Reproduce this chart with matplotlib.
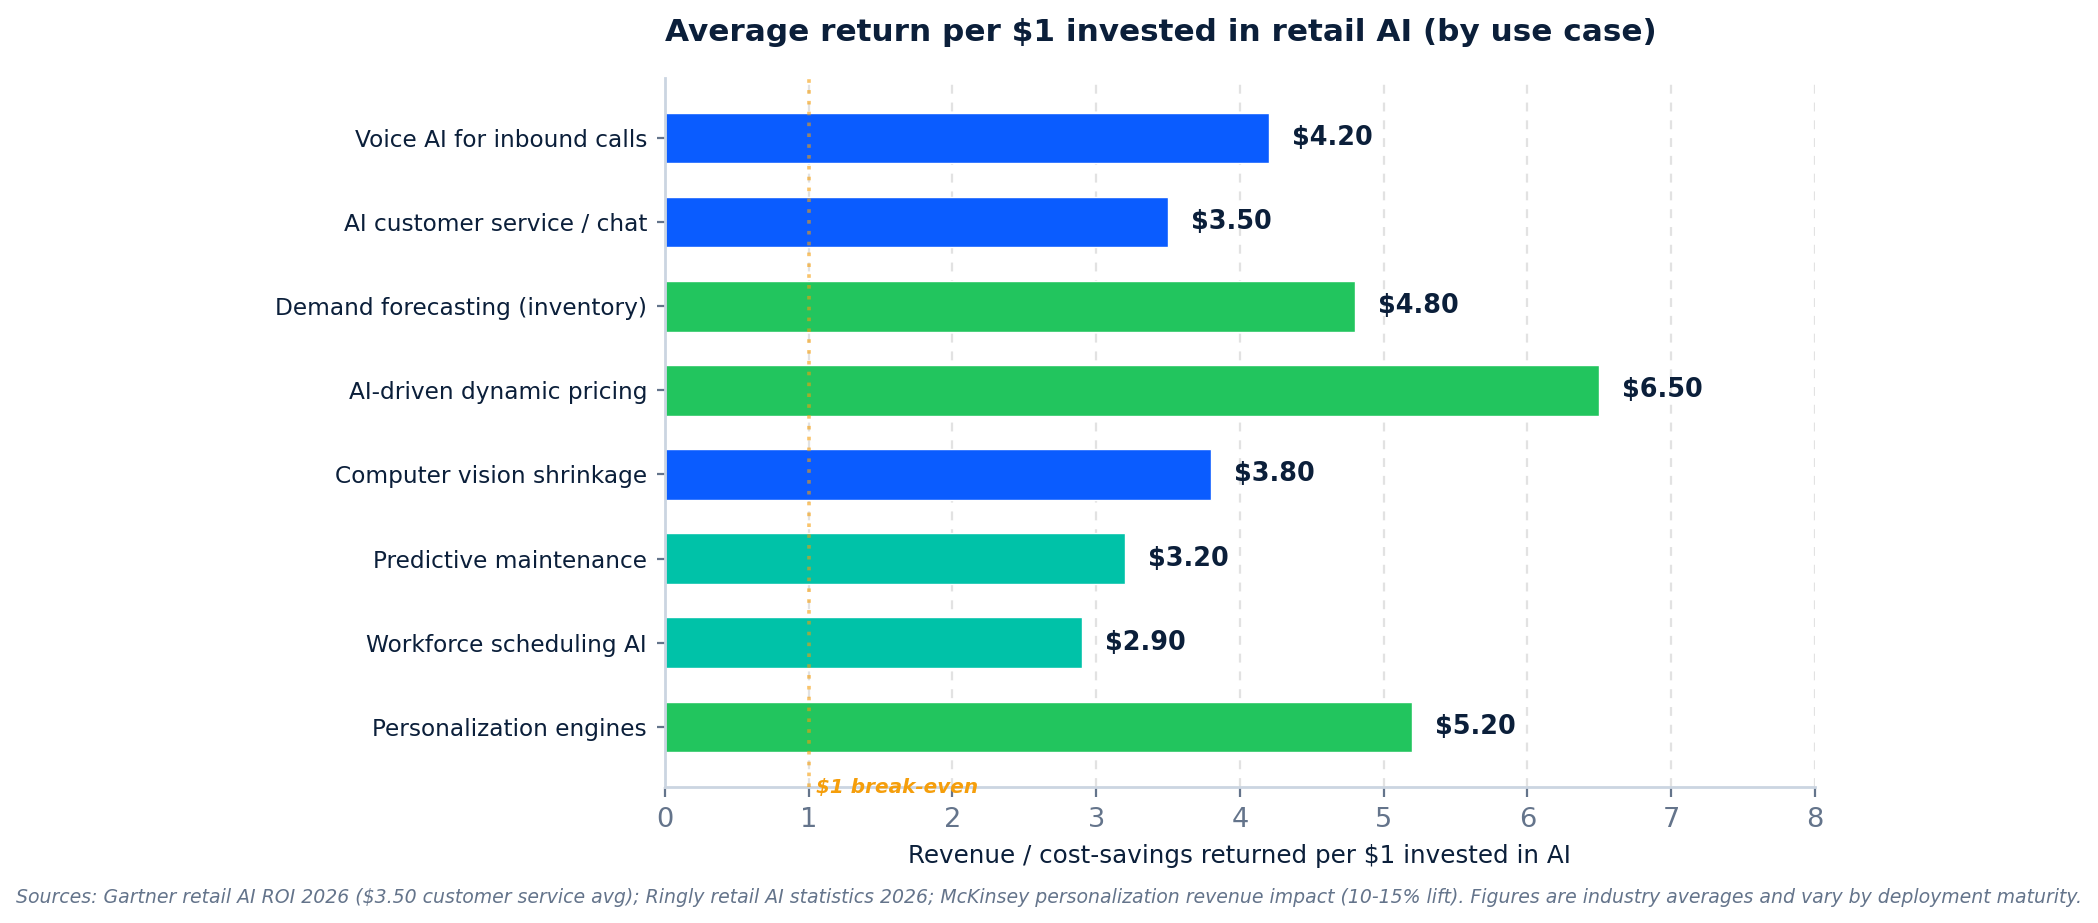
import matplotlib.pyplot as plt

use_cases = [
    "Voice AI for inbound calls",
    "AI customer service / chat",
    "Demand forecasting (inventory)",
    "AI-driven dynamic pricing",
    "Computer vision shrinkage",
    "Predictive maintenance",
    "Workforce scheduling AI",
    "Personalization engines",
]
returns = [4.20, 3.50, 4.80, 6.50, 3.80, 3.20, 2.90, 5.20]
groups = ["cx", "cx", "sales", "sales", "cx", "ops", "ops", "sales"]
group_colors = {"cx": "#0A5CFF", "sales": "#22C55E", "ops": "#00C2A8"}

navy = "#0B1F3A"
slate = "#64748B"

fig = plt.figure(figsize=(10.49, 4.615), dpi=200)
ax = fig.add_axes([0.317, 0.147, 0.548, 0.769])

ypos = list(range(len(use_cases)))[::-1]
colors = [group_colors[g] for g in groups]
ax.barh(ypos, returns, height=0.6, color=colors, edgecolor="white",
        linewidth=0.5, zorder=2)

for y, v in zip(ypos, returns):
    ax.text(v + 0.16, y, f"${v:.2f}", va="center", ha="left",
            fontsize=9.2, fontweight="bold", color=navy)

ax.axvline(1, color="#F59E0B", linestyle=(0, (1, 2)), linewidth=1.3,
           alpha=0.6, zorder=3)
ax.text(1.05, -0.72, "$1 break-even", color="#F59E0B", fontsize=7.2,
        fontweight="bold", fontstyle="italic", va="center", ha="left")

ax.set_xlim(0, 8)
ax.set_ylim(-0.72, 7.72)
ax.set_yticks(ypos)
ax.set_yticklabels(use_cases, fontsize=8.4, color=navy)
ax.tick_params(axis="x", labelsize=9.8, labelcolor=slate, color=slate)
ax.tick_params(axis="y", color=slate, length=3)
ax.grid(axis="x", linestyle=(0, (4, 4)), color="#E2E2E2", linewidth=0.8, zorder=0)
ax.set_axisbelow(True)

for s in ["top", "right"]:
    ax.spines[s].set_visible(False)
for s in ["left", "bottom"]:
    ax.spines[s].set_color("#CBD5E1")
    ax.spines[s].set_linewidth(1)

ax.set_xlabel("Revenue / cost-savings returned per $1 invested in AI",
              fontsize=8.85, color=navy, labelpad=4)
ax.set_title("Average return per $1 invested in retail AI (by use case)",
             loc="left", fontsize=11.2, fontweight="bold", color=navy, pad=13)

fig.text(0.5, 0.028,
         "Sources: Gartner retail AI ROI 2026 ($3.50 customer service avg); Ringly retail AI statistics 2026; "
         "McKinsey personalization revenue impact (10-15% lift). Figures are industry averages and vary by deployment maturity.",
         ha="center", va="center", fontsize=6.8, fontstyle="italic", color=slate)

fig.savefig("out.png", dpi=200)
